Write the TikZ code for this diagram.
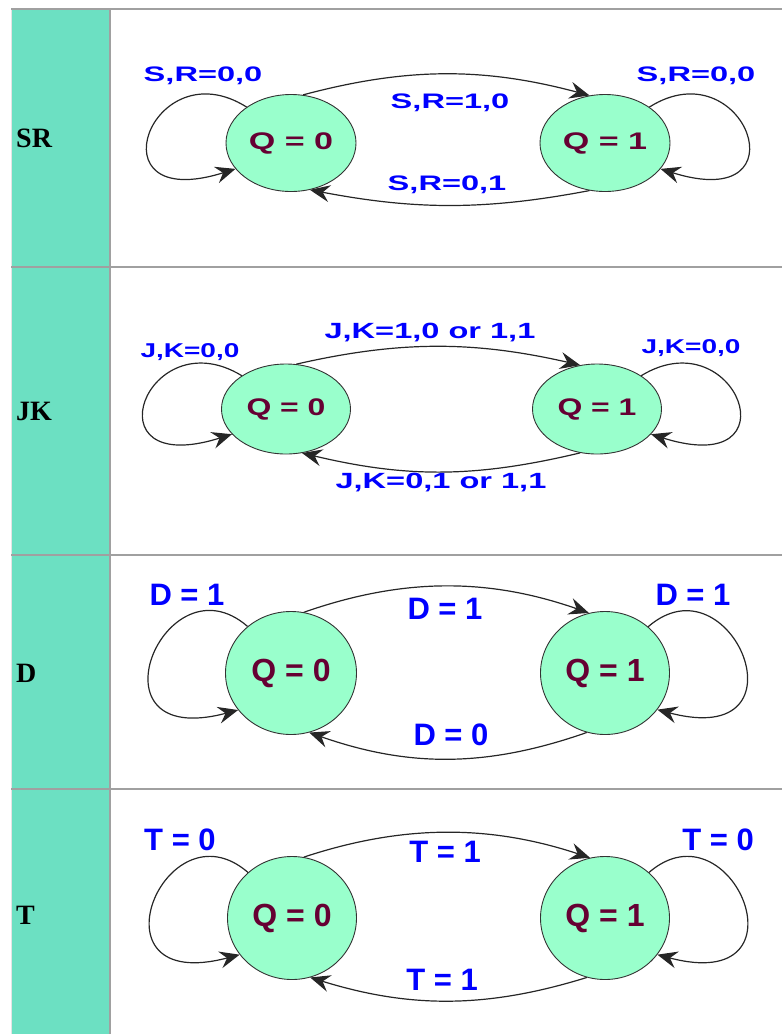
\documentclass[tikz,border=0pt]{standalone}
\usepackage{fontspec}
\usepackage{tikz}
\usetikzlibrary{arrows.meta,shapes.geometric}
\setmainfont{Liberation Serif}
\setsansfont{Liberation Sans}
\definecolor{cellTeal}{RGB}{108,224,194}
\definecolor{stateGreen}{RGB}{153,255,204}
\definecolor{stateText}{RGB}{102,0,51}
\definecolor{labelBlue}{RGB}{0,0,255}
\definecolor{ruleGray}{RGB}{160,160,160}
\definecolor{edgeGray}{RGB}{228,228,228}
\newcommand{\xstr}[2]{\scalebox{#1}[1]{#2}}

\begin{document}
\begin{tikzpicture}[x=1pt, y=-1pt,
  state/.style={ellipse, draw=black!80, line width=0.9pt, fill=stateGreen, inner sep=0pt, text=stateText},
  lbl/.style={text=labelBlue, inner sep=0pt},
  trans/.style={-{Stealth[length=20pt,width=17pt,inset=7pt]}, line width=1.2pt, black!85},
  rowname/.style={anchor=west, inner sep=0pt, font=\fontsize{28}{30}\selectfont\bfseries}]
\useasboundingbox (0,0) rectangle (782,1034);
%
\fill[cellTeal] (12,9) rectangle (108.5,1034);
\draw[edgeGray, line width=1.5pt] (11.5,9) -- (11.5,1034);
\draw[ruleGray, line width=2pt] (109.5,9) -- (109.5,1034);
\foreach \ry in {9,267,555,789}
  \draw[ruleGray, line width=2pt] (11,\ry) -- (782,\ry);

%
\begin{scope}[shift={(0,143)}, lbl/.append style={font=\fontsize{21}{24}\selectfont\sffamily\bfseries}]
\node[rowname] (nSR) at (16,-5) {SR};
\node[state, minimum width=130pt, minimum height=97pt, font=\fontsize{24}{26}\selectfont\sffamily\bfseries] (sr0) at (291,0) {\xstr{1.42}{Q = 0}};
\node[state, minimum width=130pt, minimum height=97pt, font=\fontsize{24}{26}\selectfont\sffamily\bfseries] (sr1) at (605,0) {\xstr{1.42}{Q = 1}};
\draw[trans] (sr0.76) .. controls +(105,-28) and +(-105,-28) .. (sr1.108);
\draw[trans] (sr1.252) .. controls +(-105,20) and +(105,20) .. (sr0.292);
\draw[trans] (sr0.141) .. controls +(-95,-60) and +(-146,46) .. (sr0.205);
\draw[trans] (sr1.39) .. controls +(95,-60) and +(146,46) .. (sr1.335);
\node[lbl] (srL) at (203,-67) {\xstr{1.55}{S,R=0,0}};
\node[lbl] (srR) at (696,-67) {\xstr{1.55}{S,R=0,0}};
\node[lbl] (srT) at (450,-40) {\xstr{1.55}{S,R=1,0}};
\node[lbl] (srB) at (447,42) {\xstr{1.55}{S,R=0,1}};
\end{scope}

%
\begin{scope}[shift={(0,409)}, lbl/.append style={font=\fontsize{20}{23}\selectfont\sffamily\bfseries}]
\node[rowname] (nJK) at (16,2) {JK};
\node[state, minimum width=129pt, minimum height=90pt, font=\fontsize{24}{26}\selectfont\sffamily\bfseries] (jk0) at (286,0) {\xstr{1.33}{Q = 0}};
\node[state, minimum width=129pt, minimum height=90pt, font=\fontsize{24}{26}\selectfont\sffamily\bfseries] (jk1) at (597,0) {\xstr{1.33}{Q = 1}};
\draw[trans] (jk0.77) .. controls +(105,-24) and +(-105,-24) .. (jk1.111);
\draw[trans] (jk1.249) .. controls +(-105,25) and +(105,25) .. (jk0.290);
\draw[trans] (jk0.143) .. controls +(-95,-58) and +(-146,46) .. (jk0.205);
\draw[trans] (jk1.37) .. controls +(95,-58) and +(146,46) .. (jk1.335);
\node[lbl] (jkL) at (190,-57) {\xstr{1.4}{J,K=0,0}};
\node[lbl] (jkR) at (691,-61) {\xstr{1.4}{J,K=0,0}};
\node[lbl, font=\fontsize{22}{25}\selectfont\sffamily\bfseries] (jkT) at (430,-76) {\xstr{1.48}{J,K=1,0 or 1,1}};
\node[lbl, font=\fontsize{22}{25}\selectfont\sffamily\bfseries] (jkB) at (441,74) {\xstr{1.48}{J,K=0,1 or 1,1}};
\end{scope}

%
\begin{scope}[shift={(0,673)}, lbl/.append style={font=\fontsize{31}{34}\selectfont\sffamily\bfseries}]
\node[rowname] (nD) at (16,0) {D};
\node[state, minimum width=131pt, minimum height=123pt, font=\fontsize{32}{36}\selectfont\sffamily\bfseries] (d0) at (291,0) {Q = 0};
\node[state, minimum width=129pt, minimum height=123pt, font=\fontsize{32}{36}\selectfont\sffamily\bfseries] (d1) at (605,0) {Q = 1};
\draw[trans] (d0.78) .. controls +(100,-35) and +(-100,-35) .. (d1.105);
\draw[trans] (d1.253) .. controls +(-100,35) and +(100,35) .. (d0.287);
\draw[trans] (d0.133) .. controls +(-83,-72) and +(-155,41) .. (d0.215);
\draw[trans] (d1.47) .. controls +(83,-72) and +(155,41) .. (d1.325);
\node[lbl] (dL) at (187,-78) {D = 1};
\node[lbl] (dR) at (693,-78) {D = 1};
\node[lbl] (dT) at (445,-64) {D = 1};
\node[lbl] (dB) at (451,62) {D = 0};
\end{scope}

%
\begin{scope}[shift={(0,918)}, lbl/.append style={font=\fontsize{31}{34}\selectfont\sffamily\bfseries}]
\node[rowname] (nT) at (16,-3) {T};
\node[state, minimum width=129pt, minimum height=123pt, font=\fontsize{32}{36}\selectfont\sffamily\bfseries] (t0) at (292,0) {Q = 0};
\node[state, minimum width=129pt, minimum height=123pt, font=\fontsize{32}{36}\selectfont\sffamily\bfseries] (t1) at (605,0) {Q = 1};
\draw[trans] (t0.79) .. controls +(100,-33) and +(-100,-33) .. (t1.104);
\draw[trans] (t1.253) .. controls +(-100,31) and +(100,31) .. (t0.287);
\draw[trans] (t0.134) .. controls +(-83,-72) and +(-155,41) .. (t0.215);
\draw[trans] (t1.46) .. controls +(83,-72) and +(155,41) .. (t1.325);
\node[lbl] (tL) at (180,-78) {T = 0};
\node[lbl] (tR) at (718,-78) {T = 0};
\node[lbl] (tT) at (445,-66) {T = 1};
\node[lbl] (tB) at (442,62) {T = 1};
\end{scope}
\end{tikzpicture}
\end{document}
